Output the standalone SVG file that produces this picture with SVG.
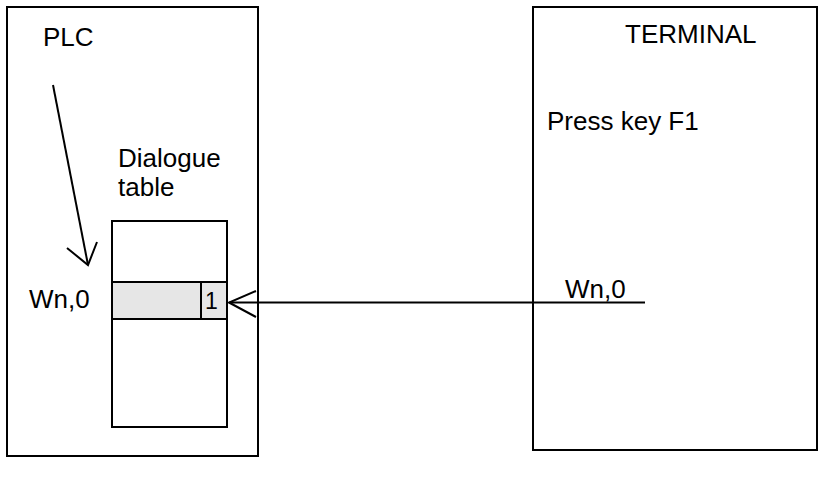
<svg xmlns="http://www.w3.org/2000/svg" width="820" height="477" viewBox="0 0 820 477">
<style>
.box{fill:none;stroke:#000;stroke-width:2}
.ln{fill:none;stroke:#000;stroke-width:2}
text{font-family:"Liberation Sans",Arial,sans-serif;font-size:26px;fill:#000}
</style>
<rect width="820" height="477" fill="#fff"/>
<g id="plc">
<rect class="box" x="7" y="7" width="251" height="449"/>
<text x="43" y="46">PLC</text>
<text x="29" y="308">Wn,0</text>
</g>
<g id="dialogue-table">
<text x="118" y="167">Dialogue</text>
<text x="118" y="196">table</text>
<rect class="box" x="112" y="221" width="115" height="206"/>
<rect x="112" y="282" width="115" height="37" fill="#e6e6e6" stroke="#000" stroke-width="2"/>
<line class="ln" x1="201" y1="282" x2="201" y2="319"/>
<text x="205" y="309" style="font-size:23px">1</text>
</g>
<g id="terminal">
<rect class="box" x="533" y="7" width="284" height="443"/>
<text x="625" y="43">TERMINAL</text>
<text x="547" y="130">Press key F1</text>
<text x="565" y="298">Wn,0</text>
</g>
<g id="connectors">
<line class="ln" x1="645" y1="302.5" x2="229" y2="302.5"/>
<polyline class="ln" points="256,291 229,302.5 256,317"/>
<line class="ln" x1="53" y1="85" x2="88" y2="265"/>
<polyline class="ln" points="67,248 88,265 97,242"/>
</g>
</svg>
